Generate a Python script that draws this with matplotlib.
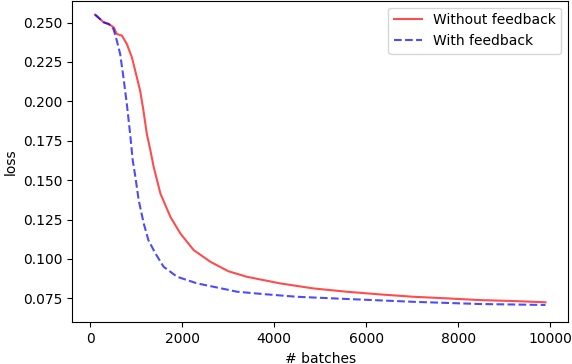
import matplotlib
matplotlib.use("Agg")
import matplotlib.pyplot as plt

# Without feedback (red, solid)
x_red = [100, 290, 400, 507, 574, 683, 791, 900, 1009, 1080, 1152, 1226, 1304,
         1376, 1522, 1739, 1957, 2246, 2609, 3000, 3400, 4124, 4848, 5574, 6298,
         7024, 7748, 8472, 9196, 9900]
y_red = [0.2550, 0.2501, 0.2490, 0.2469, 0.2427, 0.2417, 0.2364, 0.2280, 0.2153,
         0.2069, 0.1943, 0.1794, 0.1689, 0.1583, 0.1415, 0.1267, 0.1161, 0.1056,
         0.0982, 0.0922, 0.0887, 0.0845, 0.0813, 0.0792, 0.0775, 0.0760, 0.0750,
         0.0739, 0.0733, 0.0725]

# With feedback (blue, dashed)
x_blue = [100, 290, 400, 500, 574, 646, 717, 791, 863, 920, 978, 1050, 1159,
          1261, 1413, 1593, 1884, 2319, 2850, 3189, 3761, 4487, 5574, 7024, 8472,
          9900]
y_blue = [0.2550, 0.2501, 0.2490, 0.2459, 0.2385, 0.2301, 0.2153, 0.1984, 0.1794,
          0.1625, 0.1520, 0.1372, 0.1225, 0.1119, 0.1035, 0.0950, 0.0887, 0.0845,
          0.0813, 0.0792, 0.0777, 0.0760, 0.0746, 0.0728, 0.0714, 0.0708]

W, H = 572, 364
fig = plt.figure(figsize=(W / 100, H / 100), dpi=100)
left, right, top, bottom = 72.3, 568.0, 0.6, 322.3
ax = fig.add_axes([left / W, 1 - bottom / H, (right - left) / W, (bottom - top) / H])

ax.plot(x_red, y_red, color="red", alpha=0.7, linewidth=1.5, label="Without feedback")
ax.plot(x_blue, y_blue, color="blue", alpha=0.7, linewidth=1.5, linestyle="--",
        label="With feedback")

ax.set_xlim(-395, 10390)
ax.set_ylim(0.0598, 0.2639)
ax.set_xticks([0, 2000, 4000, 6000, 8000, 10000])
ax.set_yticks([0.075, 0.100, 0.125, 0.150, 0.175, 0.200, 0.225, 0.250])
ax.set_xlabel("# batches")
ax.set_ylabel("loss")
ax.legend(loc="upper right")

fig.savefig("out.png", dpi=100)
